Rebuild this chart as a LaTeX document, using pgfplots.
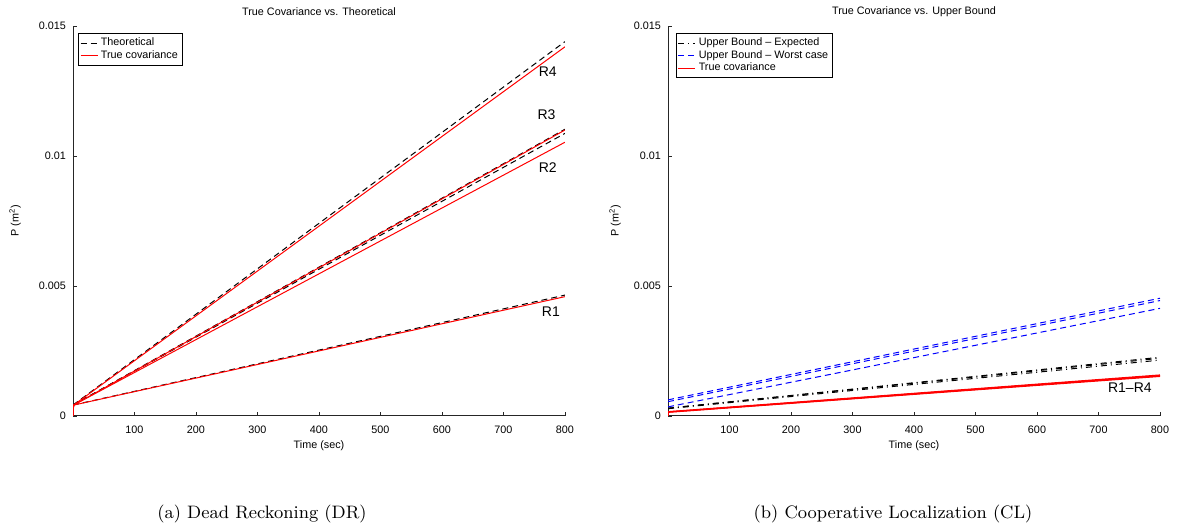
\documentclass[border=0pt]{standalone}
\usepackage{pgfplots}
\pgfplotsset{compat=1.18}
\usepackage{fontspec}
\newfontfamily\arial{Liberation Sans}
\newcommand\axfont{\arial\fontsize{5.4}{6.4}\selectfont}
\newcommand\rfont{\arial\fontsize{7}{8}\selectfont}
\newcommand\capfont{\fontsize{9}{11}\selectfont}

\pgfplotsset{
  mlaxis/.style={
    scale only axis, width=246pt, height=195pt,
    xmin=0, xmax=800, ymin=0, ymax=0.015,
    axis lines=left, axis line style={-, line width=0.5pt, black!85},
    tick align=inside, major tick length=2pt,
    tick style={line width=0.4pt, black!85},
    xtick={100,200,...,800},
    ytick={0,0.005,0.01,0.015},
    yticklabels={0,0.005,0.01,0.015},
    scaled y ticks=false,
    /pgf/number format/assume math mode=true,
    tick label style={font=\axfont},
    xticklabel style={yshift=-1.5pt},
    legend style={font=\axfont, draw=black, line width=0.5pt,
      inner sep=0.8pt, anchor=north west, legend cell align=left,
      row sep=-2pt,
      nodes={inner sep=1.4pt}},
    legend image code/.code={\draw[##1] (0pt,0pt) -- (8.5pt,0pt);},
  },
  theo/.style={black, line width=0.5pt, dash pattern=on 3pt off 2pt},
  worst/.style={blue, line width=0.5pt, dash pattern=on 3pt off 2pt},
  expect/.style={black, line width=0.5pt, dash pattern=on 3pt off 2pt on 0.5pt off 2pt},
  truec/.style={red, line width=0.5pt},
}

\begin{document}
\begin{tikzpicture}
\useasboundingbox (0,0) rectangle (589.5pt,264.5pt);

% Dead reckoning: theoretical vs. true covariance, robots R1-R4
\begin{axis}[mlaxis, at={(36.5pt,56.5pt)}, anchor=south west,
  legend style={at={(0.010,0.982)}}]
  \addplot[theo] coordinates {(0,0.00042) (800,0.00465)};
  \addlegendentry{Theoretical}
  \addplot[theo, forget plot] coordinates {(0,0.00042) (800,0.01087)};
  \addplot[theo, forget plot] coordinates {(0,0.00042) (800,0.01103)};
  \addplot[theo, forget plot] coordinates {(0,0.00042) (800,0.01440)};
  \addplot[truec] coordinates {(0,0) (1,0.00042) (800,0.00459)};
  \addlegendentry{True covariance}
  \addplot[truec, forget plot] coordinates {(0,0) (1,0.00042) (800,0.01053)};
  \addplot[truec, forget plot] coordinates {(0,0) (1,0.00042) (800,0.01100)};
  \addplot[truec, forget plot] coordinates {(0,0) (1,0.00042) (800,0.01420)};
  \node[font=\rfont] at (axis cs:772,0.01323) {R4};
  \node[font=\rfont] at (axis cs:770,0.01158) {R3};
  \node[font=\rfont] at (axis cs:772,0.00955) {R2};
  \node[font=\rfont] at (axis cs:777,0.00400) {R1};
\end{axis}

% Cooperative localization: upper bounds vs. true covariance
\begin{axis}[mlaxis, at={(334pt,56.5pt)}, anchor=south west,
  legend style={at={(0.016,0.982)}}]
  \addplot[expect] coordinates {(0,0.00030) (800,0.00226)};
  \addlegendentry{Upper Bound – Expected}
  \addplot[expect, forget plot] coordinates {(0,0.00028) (800,0.00215)};
  \addplot[expect, forget plot] coordinates {(0,0.00030) (800,0.00222)};
  \addplot[worst] coordinates {(0,0.00062) (800,0.00453)};
  \addlegendentry{Upper Bound – Worst case}
  \addplot[worst, forget plot] coordinates {(0,0.00055) (800,0.00444)};
  \addplot[worst, forget plot] coordinates {(0,0.00035) (800,0.00414)};
  \addplot[truec] coordinates {(0,0) (1,0.00015) (800,0.00154)};
  \addlegendentry{True covariance}
  \addplot[truec, forget plot] coordinates {(0,0) (1,0.00014) (800,0.00152)};
  \addplot[truec, forget plot] coordinates {(0,0) (1,0.00016) (800,0.00156)};
  \addplot[truec, forget plot] coordinates {(0,0) (1,0.00017) (800,0.00158)};
  \node[font=\rfont] at (axis cs:751,0.00108) {R1–R4};
\end{axis}

% titles, axis labels and captions
\node[font=\axfont] at (159.5pt,258.5pt) {True Covariance vs. Theoretical};
\node[font=\axfont] at (457pt,258.5pt) {True Covariance vs. Upper Bound};
\node[font=\axfont] at (159.5pt,41.5pt) {Time (sec)};
\node[font=\axfont] at (457pt,41.5pt) {Time (sec)};
\node[font=\axfont, rotate=90] at (7.5pt,154pt) {P (m\textsuperscript{2})};
\node[font=\axfont, rotate=90] at (307.5pt,154pt) {P (m\textsuperscript{2})};
\node[font=\capfont] at (131pt,7.5pt) {(a) Dead Reckoning (DR)};
\node[font=\capfont] at (446.5pt,7.5pt) {(b) Cooperative Localization (CL)};
\end{tikzpicture}
\end{document}
